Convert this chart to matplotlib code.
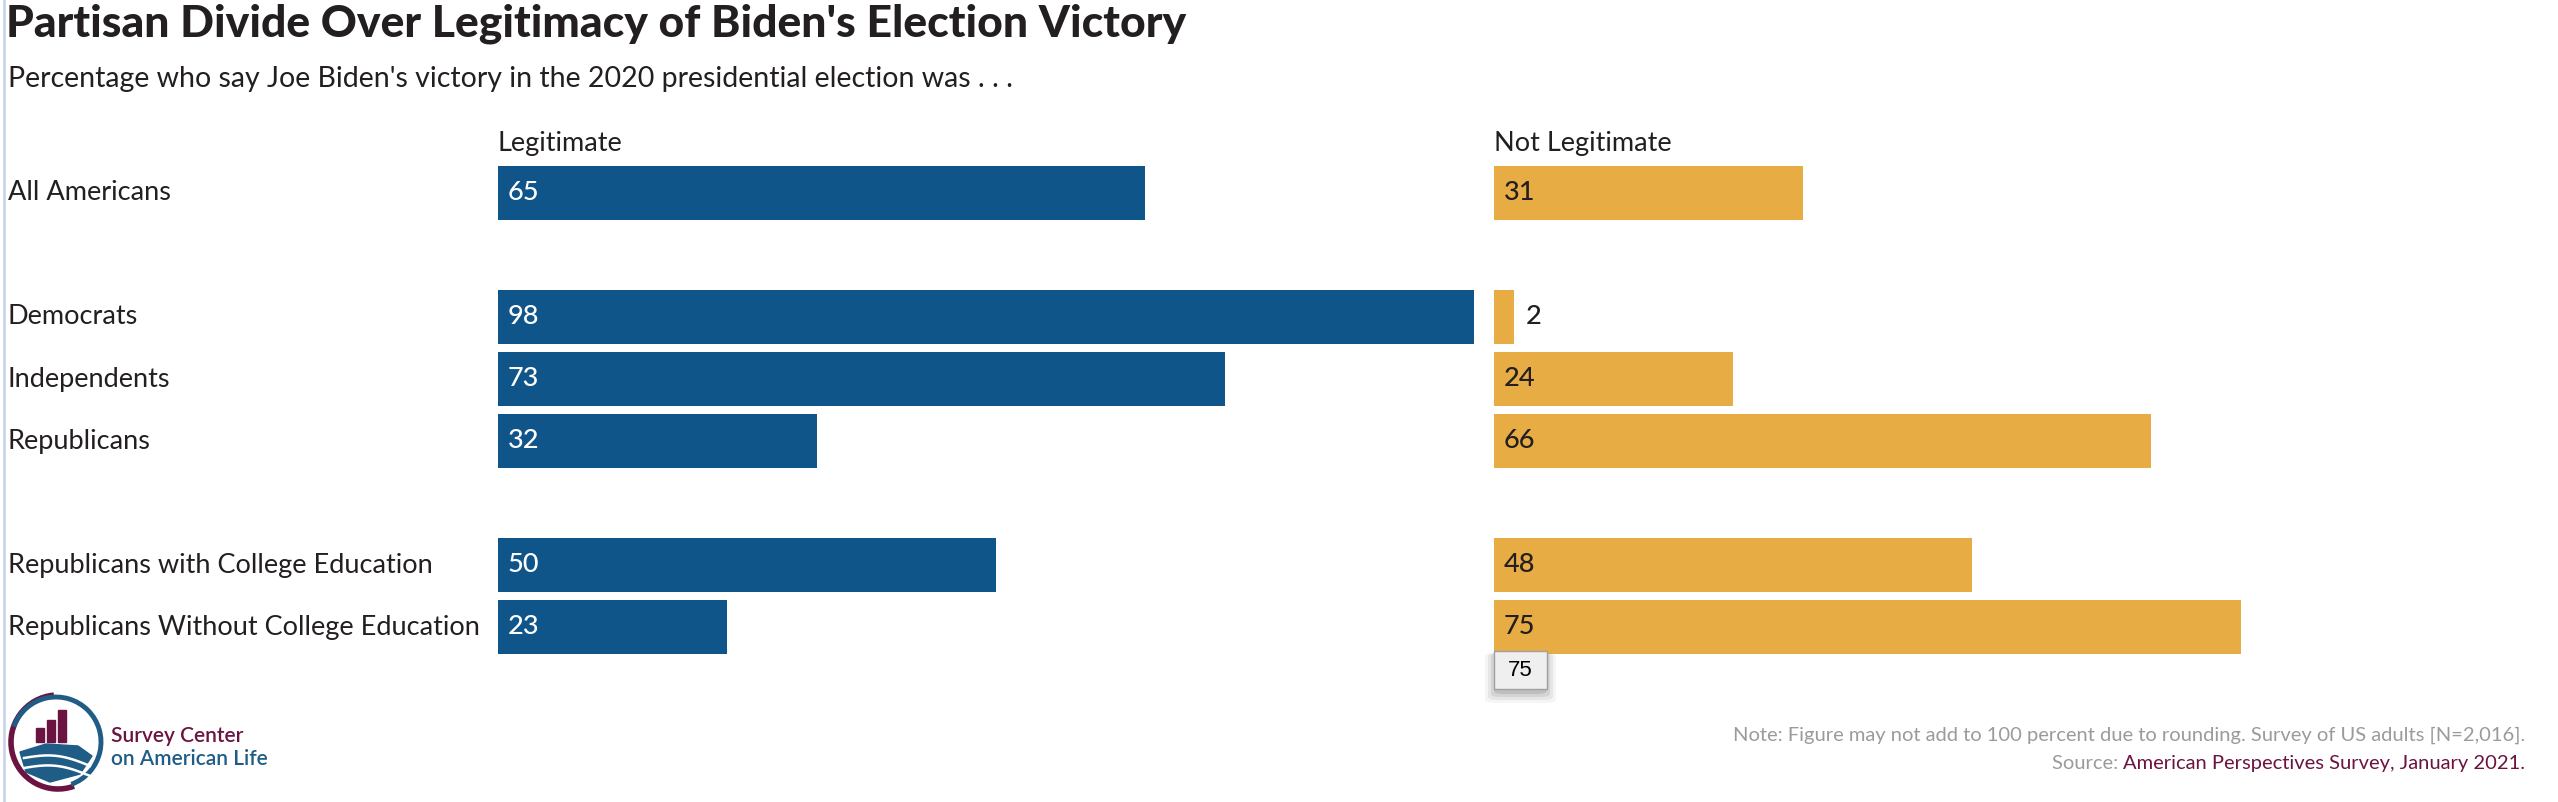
import matplotlib
matplotlib.use("Agg")
import matplotlib.pyplot as plt
from matplotlib.patches import FancyBboxPatch, Rectangle, Arc, Polygon
import numpy as np

# ---- data ----
categories = ["All Americans", "Democrats", "Independents", "Republicans",
              "Republicans with College Education", "Republicans Without College Education"]
legitimate = [65, 98, 73, 32, 50, 23]
not_legitimate = [31, 2, 24, 66, 48, 75]
series_names = ["Legitimate", "Not Legitimate"]

title = "Partisan Divide Over Legitimacy of Biden's Election Victory"
subtitle = "Percentage who say Joe Biden's victory in the 2020 presidential election was . . ."
note = "Note: Figure may not add to 100 percent due to rounding. Survey of US adults [N=2,016]."
source_label = "Source: "
source_text = "American Perspectives Survey, January 2021."
tooltip_value = 75

# ---- layout ----
slots = [0, 2, 3, 4, 6, 7]   # row slots (gaps between groups)
W, H = 2558, 802
BLUE = "#0F5589"
ORANGE = "#E8AC45"
DARK = "#231F20"
GRAY = "#9B9B9B"
MAROON = "#6B1441"
LOGO_BLUE = "#1F5C86"
FONT = ["Lato", "DejaVu Sans"]
plt.rcParams["font.family"] = FONT

fig = plt.figure(figsize=(W / 100, H / 100), dpi=100)
fig.patch.set_facecolor("white")

def fx(px):
    return px / W

def fy(py):
    return 1 - py / H

top_px, bot_px = 162, 658
axw = 996
ax_l = fig.add_axes([fx(498), fy(bot_px), fx(axw), (bot_px - top_px) / H])
ax_r = fig.add_axes([fx(1494), fy(bot_px), fx(axw), (bot_px - top_px) / H])

fs_lab = 19.5
for ax, vals, color, tcol, name in [(ax_l, legitimate, BLUE, "white", series_names[0]),
                                    (ax_r, not_legitimate, ORANGE, DARK, series_names[1])]:
    ax.barh(slots, vals, height=0.86, color=color, zorder=2)
    ax.set_xlim(0, 100)
    ax.set_ylim(7.5, -0.5)
    ax.axis("off")
    for s, v in zip(slots, vals):
        if v >= 5:
            ax.annotate(str(v), xy=(0, s), xytext=(10, 0), textcoords="offset pixels",
                        ha="left", va="center", color=tcol, fontsize=fs_lab,
                        fontweight="medium")
        else:
            ax.annotate(str(v), xy=(v, s), xytext=(12, 0), textcoords="offset pixels",
                        ha="left", va="center", color=DARK, fontsize=fs_lab,
                        fontweight="medium")
    ax.annotate(name, xy=(0, 1), xycoords="axes fraction", xytext=(0, 11),
                textcoords="offset pixels", ha="left", va="baseline",
                color=DARK, fontsize=fs_lab)

# category labels
for s, c in zip(slots, categories):
    ax_l.annotate(c, xy=(fx(8), s), xycoords=("figure fraction", "data"),
                  ha="left", va="center", color=DARK, fontsize=fs_lab)

# title / subtitle
fig.text(fx(6), fy(36), title, ha="left", va="baseline", fontsize=32,
         fontweight="black", color=DARK)
fig.text(fx(8), fy(87), subtitle, ha="left", va="baseline", fontsize=20.5, color=DARK)

# notes
fig.text(fx(2525), fy(741), note, ha="right", va="baseline", fontsize=14.5, color=GRAY)
t2 = fig.text(fx(2525), fy(769), source_text, ha="right", va="baseline", fontsize=14.5, color=MAROON)
fig.canvas.draw()
bb = t2.get_window_extent()
fig.text(bb.x0 / W, fy(769), source_label, ha="right", va="baseline", fontsize=14.5, color=GRAY)

# tooltip (hover artefact in reference)
for i, a in enumerate([0.10, 0.08, 0.06, 0.04]):
    d = 3 + 3 * i
    fig.patches.append(FancyBboxPatch((fx(1494 - d + 3), fy(689 + d + 2)), fx(53 + 2 * d - 6), (38 + d) / H,
                                      boxstyle="round,pad=0,rounding_size=0.004",
                                      transform=fig.transFigure, facecolor="black",
                                      edgecolor="none", alpha=a, zorder=1))
fig.patches.append(Rectangle((fx(1494), fy(689)), fx(53), 38 / H, transform=fig.transFigure,
                             facecolor="#EFEFEF", edgecolor="#A0A0A0", linewidth=1, zorder=2))
fig.text(fx(1520), fy(670), str(tooltip_value), ha="center", va="center", fontsize=16,
         family=["Liberation Sans", "DejaVu Sans"], color="black", zorder=3)

# left edge line
fig.add_artist(plt.Line2D([fx(4), fx(4)], [0, 1], transform=fig.transFigure,
                          color="#C9D6EA", linewidth=2))

# logo
lax = fig.add_axes([fx(6), fy(792), fx(100), 100 / H])
lax.set_xlim(0, 100)
lax.set_ylim(0, 100)
lax.axis("off")
lax.add_patch(Arc((52, 50), 94, 94, theta1=95, theta2=290, color=MAROON, linewidth=4))
lax.add_patch(Arc((50, 50), 90, 90, theta1=-70, theta2=160, color=LOGO_BLUE, linewidth=3.5))
for bx, bh in [(30, 14), (41, 22), (52, 32)]:
    lax.add_patch(Rectangle((bx, 50), 8, bh, color=MAROON))
lax.add_patch(Polygon([[14, 40], [40, 48], [72, 46], [86, 36], [74, 18], [44, 10], [20, 20]],
                      closed=True, color=LOGO_BLUE))
for yy in [34, 24]:
    xs = np.linspace(18, 84, 30)
    lax.plot(xs, yy + 6 * np.sin((xs - 18) / 66 * np.pi) - (xs - 18) * 0.12, color="white", lw=1.8)
fig.text(fx(111), fy(742), "Survey Center", ha="left", va="baseline", fontsize=15,
         fontweight="semibold", color=MAROON)
fig.text(fx(111), fy(765), "on American Life", ha="left", va="baseline", fontsize=15,
         fontweight="semibold", color=LOGO_BLUE)

fig.savefig("out.png", dpi=100, facecolor="white")
